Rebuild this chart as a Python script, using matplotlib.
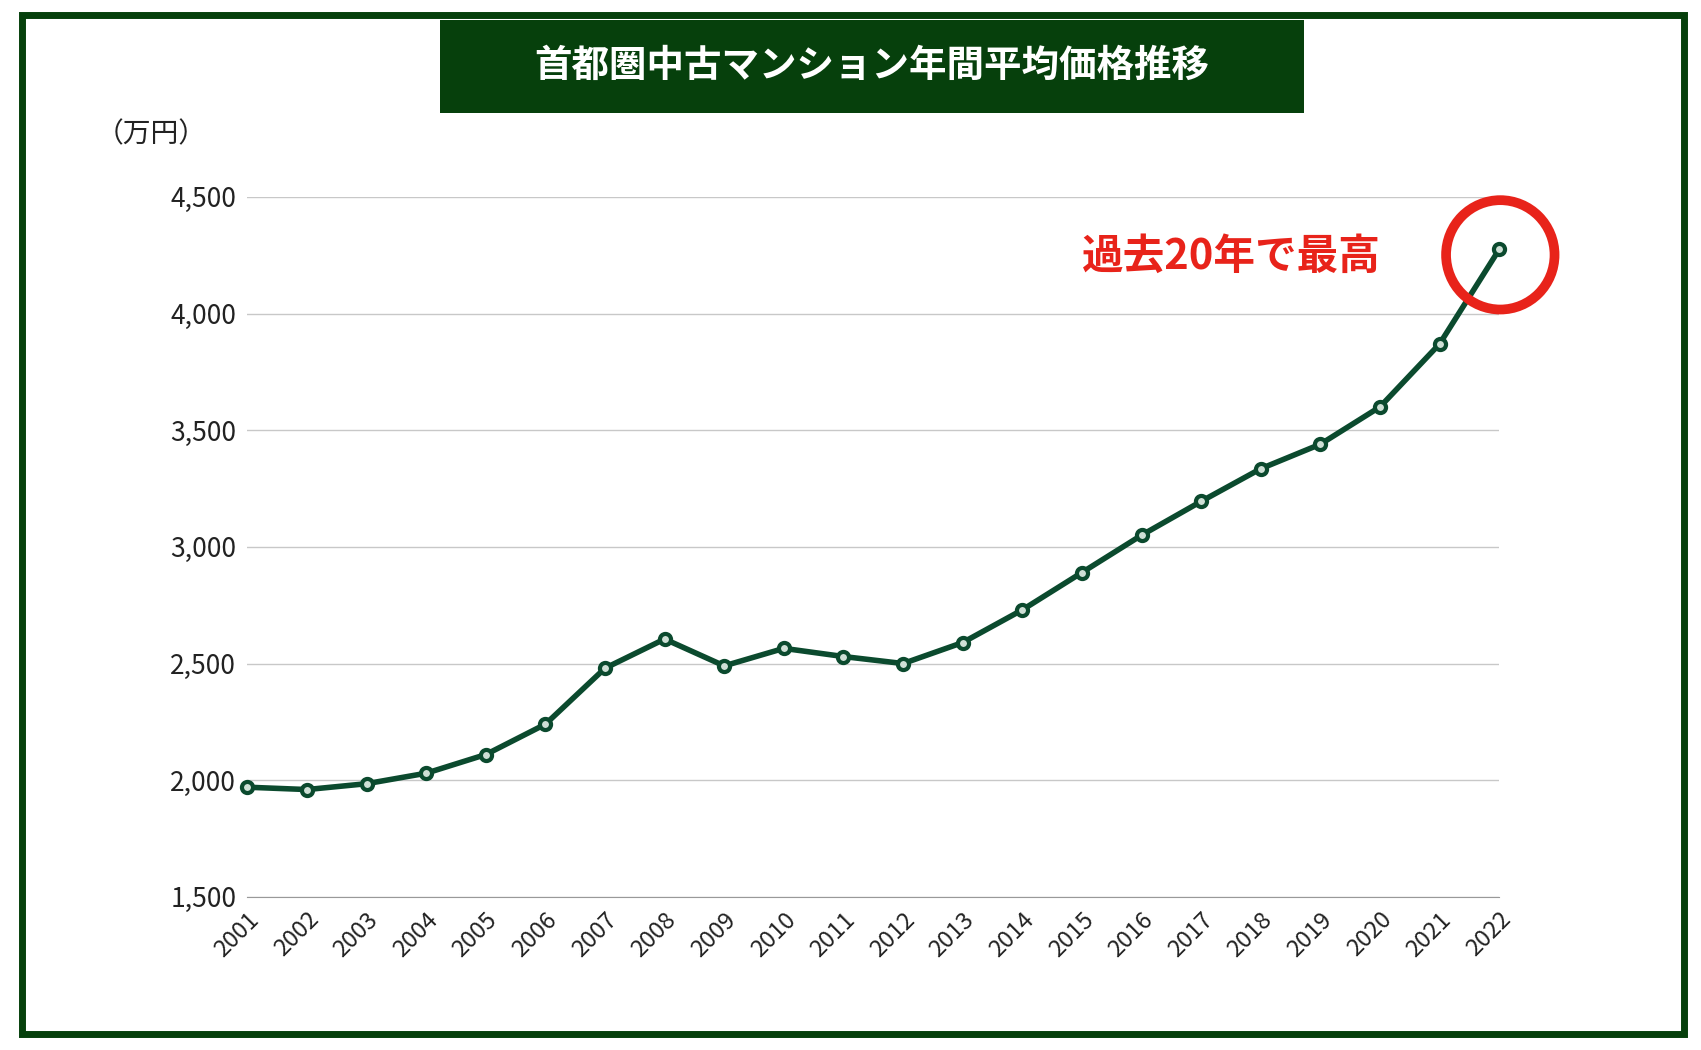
import matplotlib
matplotlib.use("Agg")
import matplotlib.pyplot as plt
from matplotlib.patches import Rectangle, Ellipse

years = [str(y) for y in range(2001, 2023)]
prices = [1970, 1960, 1985, 2030, 2110, 2240, 2480, 2605, 2490, 2565, 2530,
          2500, 2590, 2730, 2890, 3050, 3195, 3335, 3440, 3600, 3870, 4275]
yticks = [1500, 2000, 2500, 3000, 3500, 4000, 4500]
title = "首都圏中古マンション年間平均価格推移"
unit = "（万円）"
note = "過去20年で最高"

plt.rcParams["font.family"] = ["Noto Sans CJK JP", "DejaVu Sans"]
fig = plt.figure(figsize=(17.01, 10.5), dpi=100)
W, H = 1568, 960
def fx(x): return x / W
def fy(y): return 1 - y / H

fig.patches.append(Rectangle((fx(20), fy(945)), fx(1552) - fx(20), fy(14) - fy(945),
                             transform=fig.transFigure, fill=False, ec="#06400c", lw=5))
fig.patches.append(Rectangle((fx(406), fy(103)), fx(1202) - fx(406), fy(18) - fy(103),
                             transform=fig.transFigure, fc="#06400c", ec="none"))
fig.text(fx(804), fy(60), title, color="white", fontsize=27, fontweight="bold",
         ha="center", va="center")
fig.text(fx(88), fy(123), unit, fontsize=20, ha="left", va="center", color="#222")

ax = fig.add_axes([fx(228), fy(820), fx(1382) - fx(228), fy(180) - fy(820)])
x = list(range(len(years)))
ax.plot(x, prices, color="#0b4a2e", lw=4, marker="o", ms=8, mfc="#cfe0d6",
        mec="#0b4a2e", mew=3, zorder=3, clip_on=False)
ax.set_xlim(0, len(years) - 1)
ax.set_ylim(1500, 4500)
ax.set_yticks(yticks)
ax.set_yticklabels([f"{v:,}" for v in yticks], fontsize=19, color="#222")
ax.set_xticks(x)
ax.set_xticklabels(years, rotation=45, ha="right", rotation_mode="anchor", fontsize=17, color="#222")
ax.grid(axis="y", color="#c8c8c8", lw=1)
for s in ["top", "right", "left"]:
    ax.spines[s].set_visible(False)
ax.spines["bottom"].set_color("#999")
ax.tick_params(length=0, pad=8)
ax.set_axisbelow(True)

fig.patches.append(Ellipse((fx(1383), fy(233)), 2 * 50 / W, 2 * 50 / H,
                           transform=fig.transFigure, fill=False, ec="#e8231a", lw=7))
fig.text(fx(1135), fy(235), note, color="#e8231a", fontsize=30, fontweight="bold",
         ha="center", va="center")

fig.savefig("out.png", dpi=100, facecolor="white")
